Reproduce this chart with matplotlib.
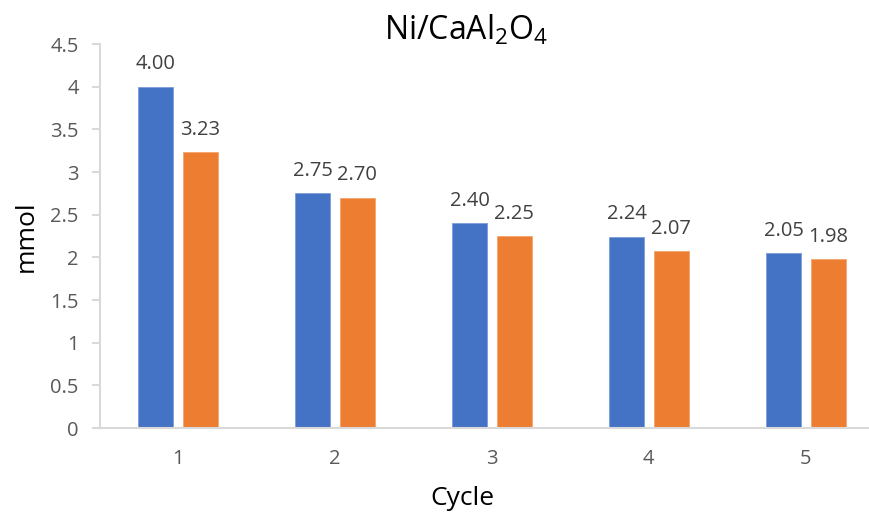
import matplotlib.pyplot as plt
import numpy as np

plt.rcParams['font.family'] = ['Open Sans', 'DejaVu Sans']
plt.rcParams['mathtext.default'] = 'regular'

cycles = ['1', '2', '3', '4', '5']
series_a = [4.00, 2.75, 2.40, 2.24, 2.05]
series_b = [3.23, 2.70, 2.25, 2.07, 1.98]
yticks = [0, 0.5, 1, 1.5, 2, 2.5, 3, 3.5, 4, 4.5]

blue = '#4472C4'
orange = '#ED7D31'
grey = '#595959'
axis_grey = '#D9D9D9'

fig = plt.figure(figsize=(8.69, 5.12), dpi=100)
ax = fig.add_axes([0.1145, 0.164, 0.903, 0.75])

x = np.arange(len(cycles))
w = 0.223
off = 0.142
b1 = ax.bar(x - off, series_a, w, color=blue, edgecolor='#7C9DD8', linewidth=0.6)
b2 = ax.bar(x + off, series_b, w, color=orange, edgecolor='#F4A46E', linewidth=0.6)

for bars, vals in ((b1, series_a), (b2, series_b)):
    for bar, v in zip(bars, vals):
        ax.annotate(f'{v:.2f}', (bar.get_x() + bar.get_width() / 2, v),
                    xytext=(0, 9), textcoords='offset points',
                    ha='center', va='bottom', fontsize=14.5, color='#404040')

ax.set_xlim(-0.5, len(cycles) - 0.5)
ax.set_ylim(0, 4.5)
ax.set_xticks(x)
ax.set_xticklabels(cycles)
ax.set_yticks(yticks)
ax.set_yticklabels([f'{t:g}' for t in yticks])

for s in ('top', 'right'):
    ax.spines[s].set_visible(False)
for s in ('left', 'bottom'):
    ax.spines[s].set_color(axis_grey)
    ax.spines[s].set_linewidth(1.5)

ax.tick_params(axis='x', length=0, pad=15, labelsize=14.5, labelcolor=grey)
ax.tick_params(axis='y', length=6, width=1.5, color=axis_grey, pad=9,
               labelsize=14.5, labelcolor=grey)

ax.set_ylabel('mmol', fontsize=19, color='black', labelpad=8)
fig.text(0.532, 0.027, 'Cycle', ha='center', va='center',
         fontsize=19, color='black')
fig.text(0.536, 0.941, r'Ni/CaAl$_{2}$O$_{4}$', ha='center', va='center',
         fontsize=23, color='black')

fig.savefig('out.png', dpi=100)
